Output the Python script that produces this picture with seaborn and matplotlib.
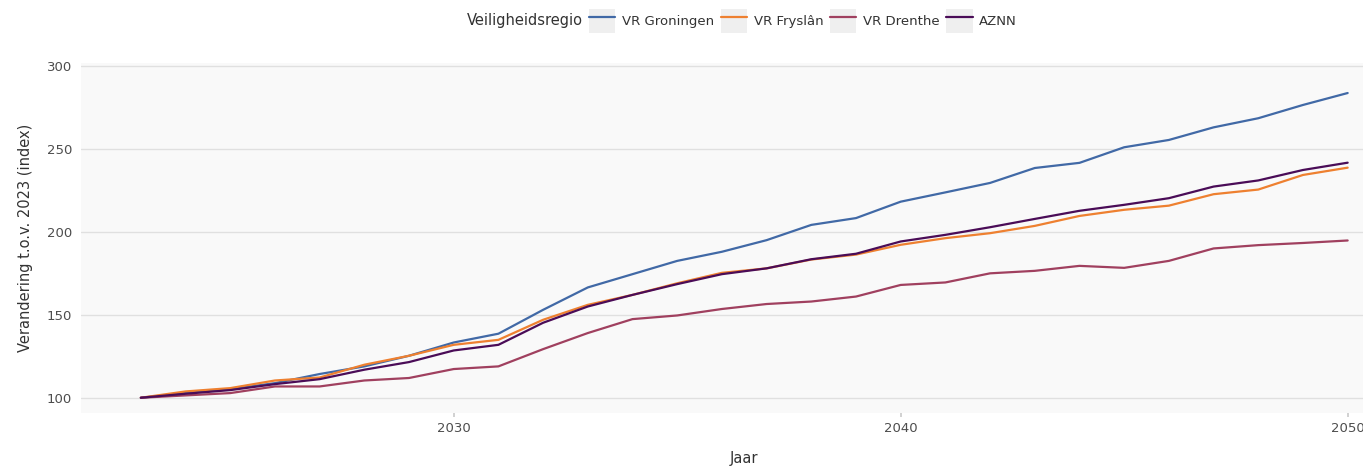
import numpy as np
import pandas as pd
import matplotlib
matplotlib.use("Agg")
import matplotlib.pyplot as plt
import seaborn as sns
from matplotlib.patches import Rectangle
from matplotlib.lines import Line2D
from matplotlib.legend_handler import HandlerTuple

years = list(range(2023, 2051))

groningen = [100, 102.8, 105.2, 108.8, 114.3, 118.9, 125.3, 133.3, 138.6, 153.0,
             166.5, 174.5, 182.5, 188.0, 195.0, 204.2, 208.3, 218.2, 223.8, 229.5,
             238.5, 241.6, 251.0, 255.4, 263.0, 268.5, 276.5, 283.7]
fryslan = [100, 103.8, 105.8, 110.4, 112.2, 119.9, 125.3, 131.9, 134.9, 147.0,
           156.0, 162.0, 169.0, 175.3, 178.0, 183.3, 186.3, 192.2, 196.2, 199.2,
           203.6, 209.6, 213.3, 215.8, 222.7, 225.5, 234.3, 238.7]
drenthe = [100, 101.4, 102.8, 106.8, 106.8, 110.4, 111.9, 117.3, 118.9, 129.3,
           139.0, 147.4, 149.6, 153.5, 156.5, 158.0, 161.0, 168.0, 169.5, 175.0,
           176.5, 179.5, 178.3, 182.5, 190.0, 192.0, 193.3, 194.8]
aznn = [100, 102.4, 104.6, 108.2, 111.2, 116.9, 121.5, 128.5, 131.9, 145.2,
        155.0, 162.0, 168.5, 174.5, 178.0, 183.5, 186.8, 194.2, 198.2, 202.8,
        207.8, 212.7, 216.3, 220.3, 227.3, 231.0, 237.3, 241.7]

regions = ["VR Groningen", "VR Fryslân", "VR Drenthe", "AZNN"]
colors = ["#4169a6", "#ee8030", "#a0405f", "#4a0c57"]
legend_title = "Veiligheidsregio"
x_label = "Jaar"
y_label = "Verandering t.o.v. 2023 (index)"
x_ticks = [2030, 2040, 2050]
y_ticks = [100, 150, 200, 250, 300]

series = [groningen, fryslan, drenthe, aznn]
df = pd.concat([pd.DataFrame({"Jaar": years, "Index": vals, "Regio": name})
                for name, vals in zip(regions, series)], ignore_index=True)
palette = dict(zip(regions, colors))

sns.set_theme(style="white")
plt.rcParams['font.family'] = ['DejaVu Sans']

W, H = 1363, 467
fig = plt.figure(figsize=(W / 100, H / 100), dpi=100)
left, right, top, bottom = 80.5, 1408, 63, 412.5
ax = fig.add_axes([left / W, 1 - bottom / H, (right - left) / W, (bottom - top) / H])
ax.set_facecolor("#f9f9f9")

sns.lineplot(data=df, x="Jaar", y="Index", hue="Regio", palette=palette,
             hue_order=regions, linewidth=1.6, ax=ax, legend=False)

ax.set_xlim(2021.65, 2051.35)
ax.set_ylim(91.1, 301.8)
ax.set_xticks(x_ticks)
ax.set_yticks(y_ticks)
ax.yaxis.grid(True, color="#e0e0e0", linewidth=1.0)
ax.xaxis.grid(False)
ax.set_axisbelow(True)
for s in ax.spines.values():
    s.set_visible(False)
ax.tick_params(axis="x", length=3, color="#cccccc", labelsize=9.5, labelcolor="#4d4d4d", pad=4, bottom=True)
ax.tick_params(axis="y", length=0, labelsize=9.5, labelcolor="#4d4d4d", pad=6)
ax.set_xlabel(x_label, fontsize=10.5, color="#333333", labelpad=11)
ax.set_ylabel(y_label, fontsize=10.5, color="#333333", labelpad=10)

handles = [(Rectangle((0, 0), 1, 1, facecolor="#efefef", edgecolor="none"),
            Line2D([], [], color=c, linewidth=1.6)) for c in colors]
fig.text(467 / W, 1 - 21 / H, legend_title, fontsize=10.5, color="#333333",
         ha="left", va="center")
leg = fig.legend(handles, regions, loc="center left", bbox_to_anchor=(589 / W, 1 - 21 / H),
                 ncol=4, frameon=False, fontsize=9.5, handlelength=2.0, handleheight=2.4,
                 handletextpad=0.5, columnspacing=0.5, borderpad=0, borderaxespad=0,
                 handler_map={tuple: HandlerTuple(ndivide=1, pad=0)})
for t in leg.get_texts():
    t.set_color("#333333")

fig.savefig("out.png", dpi=100)
